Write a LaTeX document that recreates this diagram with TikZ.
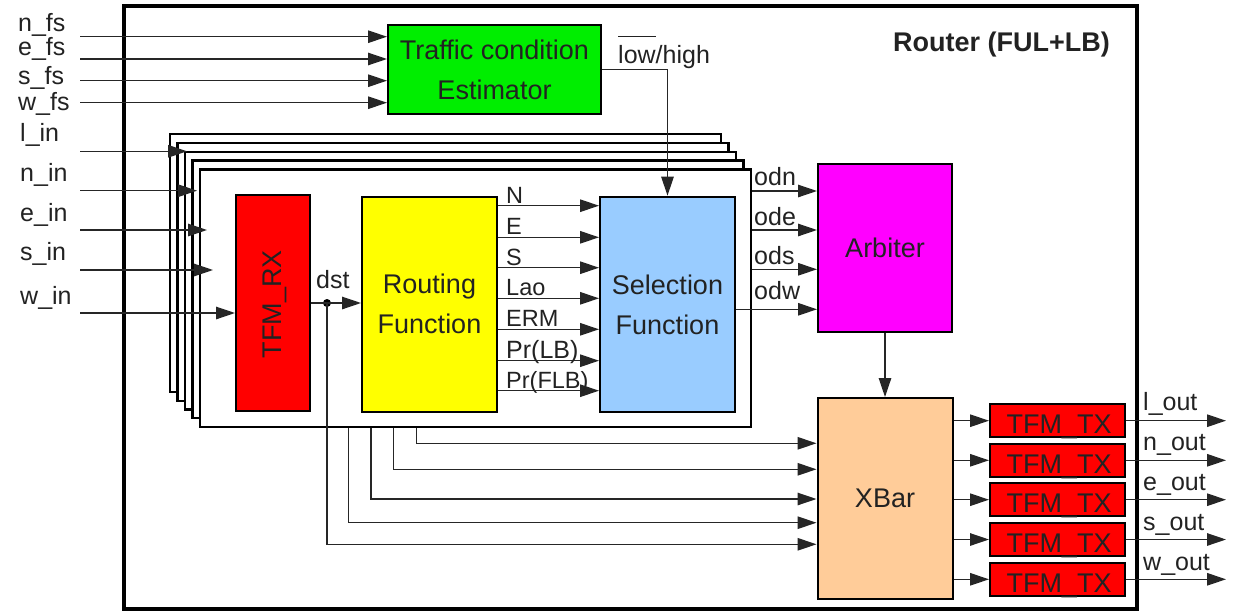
\documentclass[tikz,border=0pt]{standalone}
\usepackage{fontspec}
\setmainfont{Liberation Sans}
\usetikzlibrary{arrows.meta}
\definecolor{tgreen}{HTML}{00EE00}
\definecolor{tred}{HTML}{FF0000}
\definecolor{tyellow}{HTML}{FFFF00}
\definecolor{tblue}{HTML}{99CCFF}
\definecolor{tmag}{HTML}{FF00FF}
\definecolor{torange}{HTML}{FFCC99}
\definecolor{ink}{HTML}{222222}
\newcommand\ovbar[1]{\setbox0=\hbox{#1}\rlap{\raisebox{\dimexpr\ht0+8pt\relax}{\rule{\wd0}{1.3pt}}}\box0}
\begin{document}
\begin{tikzpicture}[x=1pt,y=-1pt,
  box/.style={draw=black, line width=2pt, inner sep=0pt, text=ink, align=center, font=\fontsize{27}{40}\selectfont},
  stackbox/.style={draw=black, line width=2.4pt, fill=white, inner sep=0pt},
  arr/.style={line width=1.3pt, draw=black!85, -{Triangle[length=19pt,width=12.5pt]}},
  wire/.style={line width=1.3pt, draw=black!85},
  lbl/.style={text=ink, inner sep=0pt, font=\fontsize{25}{30}\selectfont},
  slbl/.style={text=ink, inner sep=0pt, font=\fontsize{23.5}{28}\selectfont}]
\useasboundingbox (0,0) rectangle (1240,613);
% outer router box
\node[draw=black, line width=4.3pt, inner sep=0pt, minimum width=1013pt, minimum height=603pt] (router) at (630.5,307.5) {};
\node[text=ink, inner sep=0pt, font=\bfseries\fontsize{27}{30}\selectfont, anchor=base east] (title) at (1110,51) {Router (FUL+LB)};
% traffic condition estimator
\node[box, fill=tgreen, minimum width=213pt, minimum height=89pt] (tce) at (494.5,69.5) {Traffic condition\\Estimator};
% stacked input port boxes
\node[stackbox, minimum width=551pt, minimum height=258pt] (s0) at (445.5,263) {};
\node[stackbox, minimum width=551pt, minimum height=257.7pt] (s1) at (453,271.85) {};
\node[stackbox, minimum width=551pt, minimum height=257.7pt] (s2) at (460.5,280.55) {};
\node[stackbox, minimum width=551pt, minimum height=257.6pt] (s3) at (468,289.3) {};
\node[stackbox, minimum width=551pt, minimum height=257.4pt] (s4) at (475.5,298.1) {};
% inner blocks
\node[box, fill=tred, minimum width=74pt, minimum height=216pt] (rx) at (273,303) {};
\node[text=ink, rotate=90, inner sep=0pt, font=\fontsize{27}{30}\selectfont] (rxl) at (275,304) {TFM\_RX};
\node[box, fill=tyellow, minimum width=135pt, minimum height=215pt] (rf) at (429.5,304) {Routing\\Function};
\node[box, fill=tblue, minimum width=135pt, minimum height=215.7pt] (sf) at (667.5,304.5) {Selection\\Function};
\node[box, fill=tmag, minimum width=134pt, minimum height=168pt] (arb) at (885,248) {Arbiter};
\node[box, fill=torange, minimum width=135pt, minimum height=201pt] (xbar) at (885,498.5) {XBar};
% TFM_TX boxes
\foreach \i/\yy in {1/420.7,2/460.3,3/499.7,4/539.5,5/579.3}{
  \node[box, fill=tred, minimum width=135pt, minimum height=33pt] (tx\i) at (1057.5,\yy) {};
  \node[text=ink, inner sep=0pt, font=\fontsize{27}{30}\selectfont, anchor=base] (txl\i) at (1059,\yy+13) {TFM\_TX};
}
% fs inputs
\foreach \nm/\yy/\by in {n/36.7/31, e/59/55.5, s/80.7/84, w/102.7/110}{
  \coordinate (\nm fs) at (80,\yy);
  \draw[arr] (\nm fs) -- (tce.west |- \nm fs);
  \node[lbl, anchor=base west] (\nm fsl) at (18,\by) {\nm\_fs};
}
% port inputs
\foreach \nm/\yy/\by/\xe in {l/151.3/141.7/187, n/190.7/181.7/197, e/230/221/207, s/270/260.7/213}{
  \coordinate (\nm in) at (80,\yy);
  \coordinate (\nm ine) at (\xe,\yy);
  \draw[arr] (\nm in) -- (\nm ine);
  \node[lbl, anchor=base west] (\nm inl) at (20,\by) {\nm\_in};
}
\coordinate (win) at (80,313);
\draw[arr] (win) -- (rx.west |- win);
\node[lbl, anchor=base west] (winl) at (20,304) {w\_in};
% low/high
\draw[arr] (tce.east) -| (sf.north);
\node[lbl, anchor=base west] (lh) at (618,63.3) {\ovbar{low}/high};
% dst
\node[circle, fill=black, inner sep=0pt, minimum size=8pt] (dot) at (327,303) {};
\draw[arr] (rx.east |- dot) -- (rf.west |- dot);
\node[lbl, anchor=base west] (dstl) at (316,288.3) {dst};
% routing -> selection
\foreach \k/\yy/\lab/\st in {1/205.7/N/slbl, 2/237.3/E/slbl, 3/267.7/S/slbl, 4/298.3/Lao/slbl, 5/329.3/ERM/slbl, 6/360.7/Pr(LB)/lbl, 7/390.7/Pr(FLB)/slbl}{
  \draw[arr] (rf.east |- 0,\yy) -- (sf.west |- 0,\yy);
  \node[\st, anchor=base west] (rl\k) at (506,\yy-2.5) {\lab};
}
% selection -> arbiter
\foreach \nm/\yy/\by in {odn/191/185, ode/230/225, ods/269.3/264}{
  \draw[arr] (s4.east |- 0,\yy) -- (arb.west |- 0,\yy);
  \node[lbl, anchor=base west] (\nm) at (754,\by) {\nm};
}
\draw[arr] (sf.east |- 0,309.3) -- (arb.west |- 0,309.3);
\node[lbl, anchor=base west] (odw) at (754,299.3) {odw};
% arbiter -> xbar
\draw[arr] (arb.south) -- (xbar.north);
% lines into xbar
\draw[arr] (s4.south -| 416.4,0) |- (xbar.west |- 0,443.3);
\draw[arr] (s4.south -| 393.2,0) |- (xbar.west |- 0,469.3);
\draw[arr] (s4.south -| 371,0) |- (xbar.west |- 0,499);
\draw[arr] (s4.south -| 348.6,0) |- (xbar.west |- 0,522.7);
\draw[arr] (dot.center) |- (xbar.west |- 0,544.3);
% xbar -> TFM_TX -> outputs
\foreach \i/\nm/\by in {1/l/410, 2/n/450.7, 3/e/490, 4/s/530, 5/w/570}{
  \draw[arr] (xbar.east |- tx\i) -- (tx\i.west);
  \coordinate (\nm out) at (1226,0 |- tx\i);
  \draw[arr] (tx\i.east) -- (\nm out);
  \node[lbl, anchor=base west] (\nm outl) at (1143,\by) {\nm\_out};
}
\end{tikzpicture}
\end{document}
